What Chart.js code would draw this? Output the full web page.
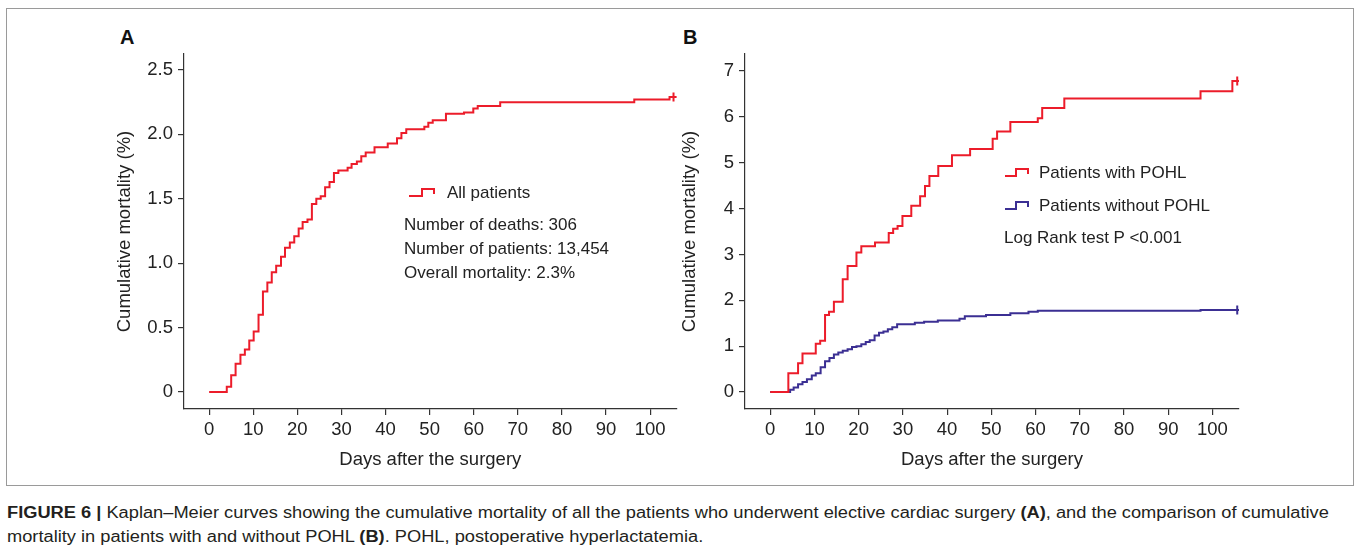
<!DOCTYPE html>
<html lang="en">
<head>
<meta charset="UTF-8">
<script src="https://cdn.jsdelivr.net/npm/chart.js"></script>
<title>Figure 6 - Kaplan-Meier</title>
<style>
    body { margin: 0; background: #fff; font-family: "Liberation Sans", Arial, sans-serif; color: #222; }
    #page { position: relative; width: 1358px; height: 556px; overflow: hidden; }
    #frame { position: absolute; left: 6px; top: 8px; width: 1346px; height: 476px; border: 1px solid #9a9a9a; }
    canvas { position: absolute; }
    .panel { position: absolute; font-weight: bold; font-size: 20px; line-height: 22px; color: #111; }
    .txt { position: absolute; font-size: 17px; line-height: 20px; white-space: nowrap; color: #222; }
    .txt svg { position: absolute; top: 5px; }
    #caption { position: absolute; left: 7px; top: 501px; font-size: 16px; line-height: 24px; white-space: nowrap; color: #231f20; transform-origin: 0 0; }
</style>
</head>
<body>
<div id="page">
    <div id="frame"></div>
    <div class="panel" style="left:120px; top:26px;">A</div>
    <div class="panel" style="left:683px; top:26px;">B</div>

    <canvas id="chart-a" width="580" height="480" style="left:113px; top:0px; width:580px; height:480px;"></canvas>
    <canvas id="chart-b" width="580" height="480" style="left:678px; top:0px; width:580px; height:480px;"></canvas>

    <!-- legenda painel A -->
    <div class="txt" style="left:408px; top:183px;">
        <svg width="28" height="10" style="left:0"><polyline points="1,8 14,8 14,1 26,1 26,6" fill="none" stroke="#ec1c2a" stroke-width="2"/></svg>
        <span style="position:absolute; left:39px;">All patients</span>
    </div>
    <div class="txt" style="left:404px; top:215px;">Number of deaths: 306</div>
    <div class="txt" style="left:404px; top:239px;">Number of patients: 13,454</div>
    <div class="txt" style="left:404px; top:263px;">Overall mortality: 2.3%</div>

    <!-- legenda painel B -->
    <div class="txt" style="left:1004px; top:163px;">
        <svg width="28" height="10" style="left:0"><polyline points="1,8 12,8 12,1 24,1 24,6" fill="none" stroke="#ec1c2a" stroke-width="2"/></svg>
        <span style="position:absolute; left:35px;">Patients with POHL</span>
    </div>
    <div class="txt" style="left:1004px; top:196px;">
        <svg width="28" height="10" style="left:0"><polyline points="1,8 12,8 12,1 24,1 24,6" fill="none" stroke="#3b2f93" stroke-width="2"/></svg>
        <span style="position:absolute; left:35px;">Patients without POHL</span>
    </div>
    <div class="txt" style="left:1004px; top:228px;">Log Rank test P &lt;0.001</div>

    <div id="caption"><b>FIGURE 6 |</b> Kaplan–Meier curves showing the cumulative mortality of all the patients who underwent elective cardiac surgery <b>(A)</b>, and the comparison of cumulative<br>mortality in patients with and without POHL <b>(B)</b>. POHL, postoperative hyperlactatemia.</div>
</div>

<script>
    // dados
    const xTicks = [0, 10, 20, 30, 40, 50, 60, 70, 80, 90, 100];
    const yTicksA = [0, 0.5, 1.0, 1.5, 2.0, 2.5];
    const yTicksB = [0, 1, 2, 3, 4, 5, 6, 7];

    const allDays = [0, 4.0, 5.0, 6.0, 7.1, 8.1, 9.1, 10.1, 11.2, 12.2, 13.2, 14.2, 15.2, 16.3, 17.2, 18.3, 19.3, 20.3, 21.2, 22.3, 23.3, 24.3, 25.3, 26.3, 27.3, 28.3, 29.3, 31.4, 32.3, 33.5, 34.5, 35.5, 37.5, 40.5, 42.6, 43.6, 44.7, 48.8, 49.7, 50.7, 53.7, 57.8, 59.9, 60.9, 66.0, 96.4, 104.4, 105.3];
    const allMort = [0, 0.04, 0.13, 0.22, 0.29, 0.33, 0.40, 0.47, 0.60, 0.78, 0.85, 0.93, 0.98, 1.05, 1.12, 1.16, 1.21, 1.27, 1.32, 1.34, 1.46, 1.50, 1.52, 1.59, 1.63, 1.70, 1.72, 1.74, 1.77, 1.79, 1.83, 1.86, 1.90, 1.93, 1.97, 2.01, 2.04, 2.06, 2.09, 2.11, 2.16, 2.17, 2.20, 2.22, 2.25, 2.27, 2.29, 2.29];

    const pohlDays = [0, 4.1, 6.3, 7.3, 10.3, 11.3, 12.4, 13.3, 14.4, 16.4, 17.5, 19.5, 20.6, 23.7, 26.8, 27.8, 28.8, 29.9, 31.9, 33.9, 35.0, 36.0, 38.0, 41.1, 45.2, 50.3, 51.3, 54.3, 60.5, 61.5, 66.5, 97.3, 104.5, 105.6];
    const pohlMort = [0, 0.41, 0.63, 0.84, 1.05, 1.12, 1.68, 1.75, 1.97, 2.46, 2.75, 3.04, 3.18, 3.26, 3.47, 3.56, 3.62, 3.84, 4.06, 4.27, 4.49, 4.71, 4.93, 5.16, 5.30, 5.52, 5.68, 5.89, 5.97, 6.19, 6.40, 6.56, 6.78, 6.78];

    const noPohlDays = [0, 4.5, 5.3, 6.3, 7.3, 8.3, 9.4, 10.3, 11.4, 12.4, 13.4, 14.4, 15.4, 16.4, 17.5, 18.5, 19.5, 20.6, 21.6, 22.5, 23.6, 24.6, 25.6, 26.6, 27.6, 28.7, 32.7, 34.8, 37.9, 42.8, 44.0, 48.8, 54.3, 58.4, 60.5, 97.3, 105.6];
    const noPohlMort = [0, 0.05, 0.10, 0.17, 0.22, 0.28, 0.36, 0.41, 0.54, 0.67, 0.74, 0.82, 0.86, 0.90, 0.93, 0.98, 1.00, 1.04, 1.09, 1.13, 1.23, 1.29, 1.32, 1.37, 1.41, 1.48, 1.51, 1.53, 1.56, 1.60, 1.65, 1.68, 1.72, 1.75, 1.77, 1.79, 1.79];

    const vermelho = '#ec1c2a';
    const azul = '#3b2f93';
    const fonte = { family: '"Liberation Sans", Arial, sans-serif', size: 18.5 };

    function serie(label, dias, valores, cor) {
        const pts = dias.map((d, i) => ({ x: d, y: valores[i] }));
        return {
            label: label,
            data: pts,
            borderColor: cor,
            backgroundColor: cor,
            borderWidth: 2,
            stepped: true,
            fill: false,
            pointStyle: 'cross',
            pointRadius: pts.map((p, i) => i === pts.length - 1 ? 4.5 : 0),
            pointBorderWidth: 2,
            pointBorderColor: cor,
            pointHoverRadius: 0
        };
    }

    function grafico(id, datasets, yTicks, yMin, yMax, yWidth, padRight, fmt) {
        new Chart(document.getElementById(id), {
            type: 'line',
            data: { datasets: datasets },
            options: {
                responsive: false,
                animation: false,
                events: [],
                layout: { padding: { top: 54, right: padRight, bottom: 0, left: 0 } },
                plugins: { legend: { display: false }, tooltip: { enabled: false } },
                scales: {
                    x: {
                        type: 'linear',
                        min: -5.7,
                        max: 106,
                        afterBuildTicks: s => { s.ticks = xTicks.map(v => ({ value: v })); },
                        afterFit: s => { s.height = 71; },
                        grid: { drawOnChartArea: false, drawTicks: true, tickLength: 6, color: '#333', lineWidth: 1.2 },
                        border: { display: true, color: '#333', width: 1.2 },
                        ticks: { font: fonte, color: '#222', padding: 4, maxRotation: 0 },
                        title: { display: true, text: 'Days after the surgery', font: fonte, color: '#222', padding: { top: 0, bottom: 9 } }
                    },
                    y: {
                        type: 'linear',
                        min: yMin,
                        max: yMax,
                        afterBuildTicks: s => { s.ticks = yTicks.map(v => ({ value: v })); },
                        afterFit: s => { s.width = yWidth; },
                        grid: { drawOnChartArea: false, drawTicks: true, tickLength: 6, color: '#333', lineWidth: 1.2 },
                        border: { display: true, color: '#333', width: 1.2 },
                        ticks: { font: fonte, color: '#222', padding: 5, callback: fmt },
                        title: { display: true, text: 'Cumulative mortality (%)', font: fonte, color: '#222', padding: { top: 1, bottom: 0 } }
                    }
                }
            }
        });
    }

    grafico('chart-a', [serie('All patients', allDays, allMort, vermelho)],
        yTicksA, -0.132, 2.624, 71, 16.4, v => v === 0 ? '0' : v.toFixed(1));

    grafico('chart-b', [
        serie('Patients with POHL', pohlDays, pohlMort, vermelho),
        serie('Patients without POHL', noPohlDays, noPohlMort, azul)
    ], yTicksB, -0.37, 7.37, 67, 19, v => String(v));

    // ajusta a legenda a largura da figura original
    const cap = document.getElementById('caption');
    const larg = cap.scrollWidth;
    const alvo = 1322;
    cap.style.transform = 'scaleX(' + (alvo / larg) + ')';
</script>
</body>
</html>
